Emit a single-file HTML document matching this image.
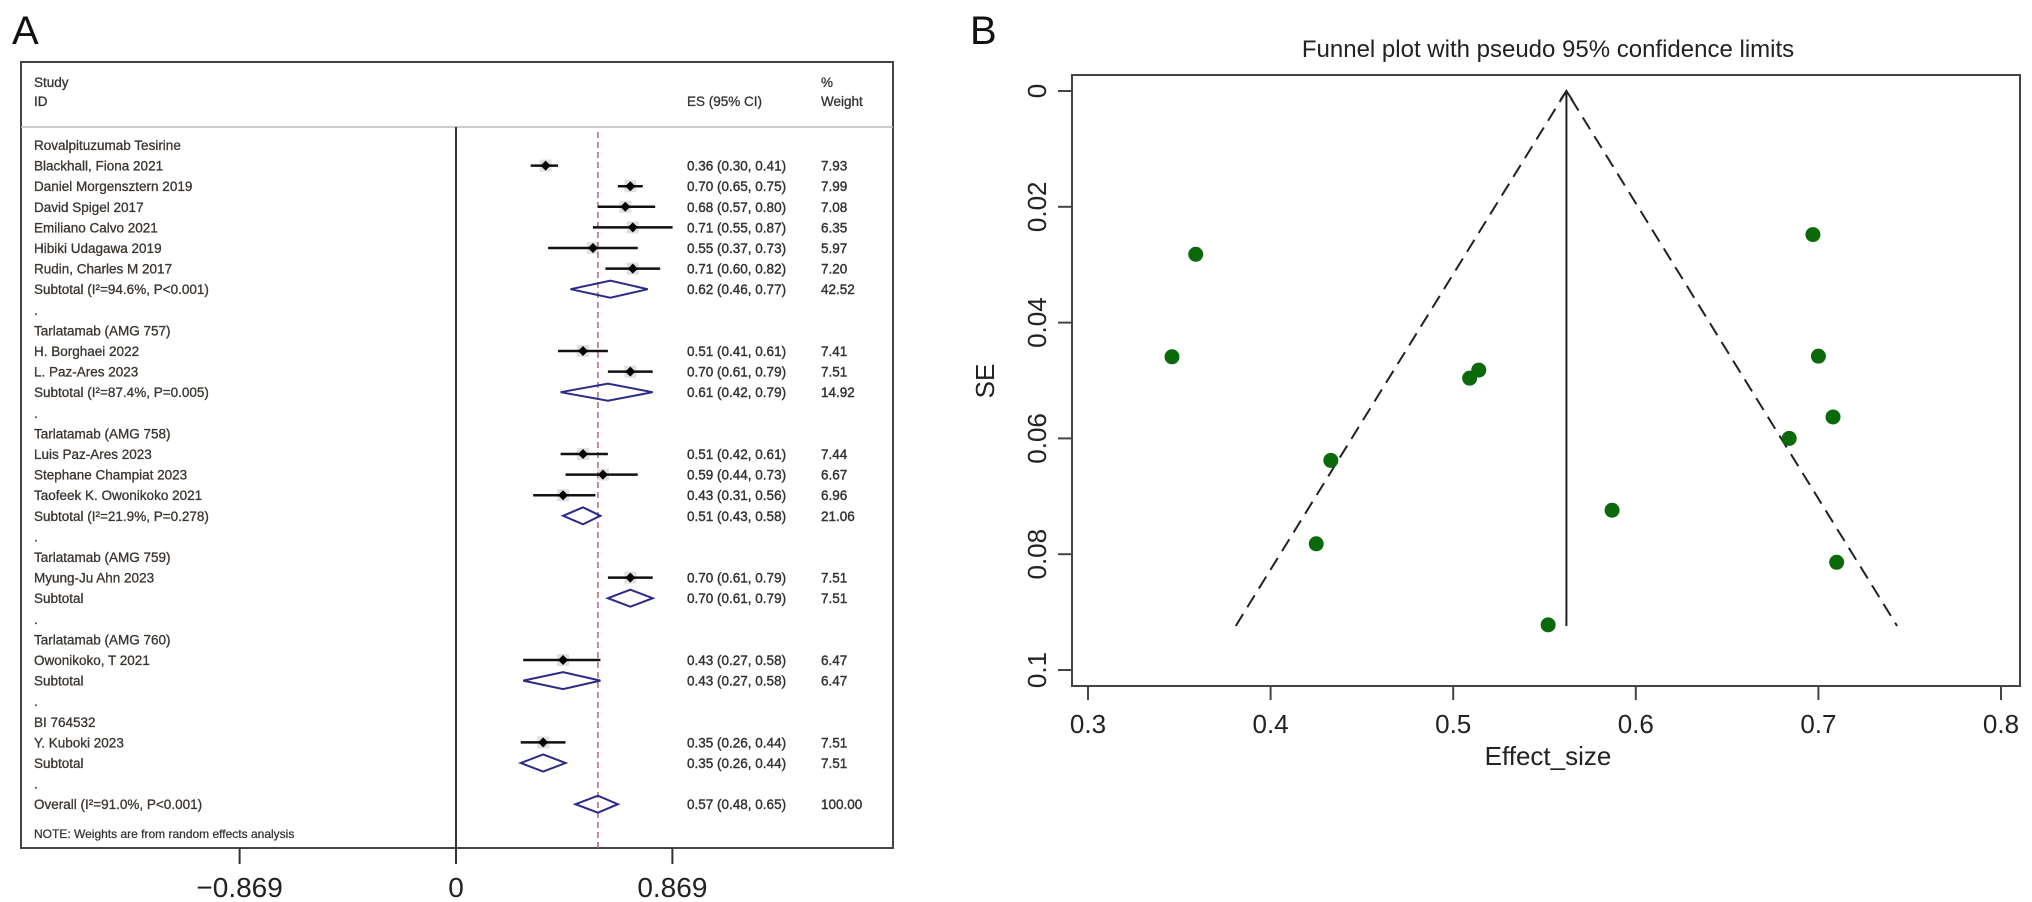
<!DOCTYPE html>
<html><head><meta charset="utf-8"><style>
body{margin:0;background:#fff;width:2032px;height:902px;overflow:hidden}
svg{display:block;font-family:"Liberation Sans",Arial,sans-serif}
</style></head><body>
<svg id="fig" width="2032" height="902" viewBox="0 0 2032 902">
<text x="12" y="44" font-size="40" fill="#111">A</text>
<text x="970" y="44" font-size="40" fill="#111">B</text>
<g id="forest"></g>
<g id="funnel"></g>
</svg>
<script>
const NS='http://www.w3.org/2000/svg';
function mk(tag,attrs,parent,txt){const e=document.createElementNS(NS,tag);for(const k in attrs)e.setAttribute(k,attrs[k]);if(txt!==undefined)e.textContent=txt;parent.appendChild(e);return e;}

// ---------- Forest plot data ----------
const rowLabels=["Rovalpituzumab Tesirine","Blackhall, Fiona 2021","Daniel Morgensztern 2019","David Spigel 2017","Emiliano Calvo 2021","Hibiki Udagawa 2019","Rudin, Charles M 2017","Subtotal  (I²=94.6%, P<0.001)",".","Tarlatamab (AMG 757)","H. Borghaei 2022","L. Paz-Ares 2023","Subtotal  (I²=87.4%, P=0.005)",".","Tarlatamab (AMG 758)","Luis Paz-Ares 2023","Stephane Champiat 2023","Taofeek K. Owonikoko 2021","Subtotal  (I²=21.9%, P=0.278)",".","Tarlatamab (AMG 759)","Myung-Ju Ahn 2023","Subtotal",".","Tarlatamab (AMG 760)","Owonikoko, T 2021","Subtotal",".","BI 764532","Y. Kuboki 2023","Subtotal",".","Overall  (I²=91.0%, P<0.001)"];
const rowTypes=["head","study","study","study","study","study","study","sub","blank","head","study","study","sub","blank","head","study","study","study","sub","blank","head","study","sub","blank","head","study","sub","blank","head","study","sub","blank","sub"];
const esVals=[null,0.36,0.70,0.68,0.71,0.55,0.71,0.62,null,null,0.51,0.70,0.61,null,null,0.51,0.59,0.43,0.51,null,null,0.70,0.70,null,null,0.43,0.43,null,null,0.35,0.35,null,0.57];
const loVals=[null,0.30,0.65,0.57,0.55,0.37,0.60,0.46,null,null,0.41,0.61,0.42,null,null,0.42,0.44,0.31,0.43,null,null,0.61,0.61,null,null,0.27,0.27,null,null,0.26,0.26,null,0.48];
const hiVals=[null,0.41,0.75,0.80,0.87,0.73,0.82,0.77,null,null,0.61,0.79,0.79,null,null,0.61,0.73,0.56,0.58,null,null,0.79,0.79,null,null,0.58,0.58,null,null,0.44,0.44,null,0.65];
const weights=[null,"7.93","7.99","7.08","6.35","5.97","7.20","42.52",null,null,"7.41","7.51","14.92",null,null,"7.44","6.67","6.96","21.06",null,null,"7.51","7.51",null,null,"6.47","6.47",null,null,"7.51","7.51",null,"100.00"];
const overallES=0.57;
const forestTicks=[-0.869,0,0.869];

const F=document.getElementById('forest');
const fx=v=>456+v*249;
const fy=i=>145+i*20.6;
mk('rect',{x:21,y:62,width:872,height:786,fill:'none',stroke:'#444','stroke-width':2},F);
mk('line',{x1:21,y1:127,x2:893,y2:127,stroke:'#bbb','stroke-width':1.5},F);
mk('line',{x1:fx(0),y1:127,x2:fx(0),y2:848,stroke:'#333','stroke-width':2},F);
mk('line',{x1:fx(overallES),y1:132,x2:fx(overallES),y2:848,stroke:'#c0606a','stroke-width':1.5,'stroke-dasharray':'6,4'},F);
const hs={fill:'#333','font-size':13.5,stroke:'#333','stroke-width':0.3};
mk('text',Object.assign({x:34,y:87},hs),F,'Study');
mk('text',Object.assign({x:34,y:106},hs),F,'ID');
mk('text',Object.assign({x:687,y:106},hs),F,'ES (95% CI)');
mk('text',Object.assign({x:821,y:87},hs),F,'%');
mk('text',Object.assign({x:821,y:106},hs),F,'Weight');
rowLabels.forEach((lab,i)=>{
  const y=fy(i);
  const t=mk('text',{x:34,y:y+5,fill:'#3a3530','font-size':13.5,stroke:'#3a3530','stroke-width':0.3},F,lab);
  
  
  if(esVals[i]==null)return;
  const tp=rowTypes[i];
  mk('text',{x:687,y:y+5,fill:'#333','font-size':13.5,stroke:'#333','stroke-width':0.4},F,esVals[i].toFixed(2)+' ('+loVals[i].toFixed(2)+', '+hiVals[i].toFixed(2)+')');
  mk('text',{x:821,y:y+5,fill:'#333','font-size':13.5,stroke:'#333','stroke-width':0.4},F,weights[i]);
  const x=fx(esVals[i]),x1=fx(loVals[i]),x2=fx(hiVals[i]);
  if(tp==='study'){
    const g=mk('g',{},F);
    
    
    mk('rect',{x:x-6,y:y-6,width:12,height:12,fill:'#999',opacity:0.3},g);
    mk('line',{x1:x1,y1:y,x2:x2,y2:y,stroke:'#111','stroke-width':2.5},g);
    mk('polygon',{points:`${x},${y-5} ${x+5},${y} ${x},${y+5} ${x-5},${y}`,fill:'#000'},g);
  }else{
    const d=mk('polygon',{points:`${x1},${y} ${x},${y-8.5} ${x2},${y} ${x},${y+8.5}`,fill:'none',stroke:'#2a2a8a','stroke-width':2},F);
    
    
  }
});
mk('text',{x:34,y:838,fill:'#333','font-size':12,stroke:'#333','stroke-width':0.25},F,'NOTE: Weights are from random effects analysis');
forestTicks.forEach(v=>{
  mk('line',{x1:fx(v),y1:848,x2:fx(v),y2:864,stroke:'#333','stroke-width':2},F);
  const t=mk('text',{x:fx(v),y:897,'text-anchor':'middle','font-size':28,fill:'#222'},F,v===0?'0':(v<0?'\u2212'+Math.abs(v):String(v)));
  
  
});

// ---------- Funnel plot data ----------
const effectSizes=[0.359,0.346,0.509,0.514,0.433,0.425,0.552,0.587,0.697,0.700,0.708,0.684,0.710];
const seVals=[0.0282,0.0459,0.0496,0.0482,0.0638,0.0782,0.0922,0.0724,0.0248,0.0458,0.0563,0.0600,0.0814];
const pooled=0.562;
const seMax=0.0924;
const xTicks=[0.3,0.4,0.5,0.6,0.7,0.8];
const yTicks=[0,0.02,0.04,0.06,0.08,0.1];

const P=document.getElementById('funnel');
const px=v=>1088+(v-0.3)*(2001-1088)/0.5;
const py=v=>91+v*(670-91)/0.1;
mk('text',{x:1548,y:57,'text-anchor':'middle','font-size':24,fill:'#222'},P,'Funnel plot with pseudo 95% confidence limits');
mk('rect',{x:1072,y:75,width:948,height:611,fill:'none',stroke:'#444','stroke-width':2},P);
xTicks.forEach(v=>{
  mk('line',{x1:px(v),y1:686,x2:px(v),y2:700,stroke:'#444','stroke-width':2},P);
  const t=mk('text',{x:px(v),y:733,'text-anchor':'middle','font-size':26,fill:'#222'},P,String(v));
  
  
});
yTicks.forEach(v=>{
  mk('line',{x1:1072,y1:py(v),x2:1058,y2:py(v),stroke:'#444','stroke-width':2},P);
  const t=mk('text',{x:1046,y:py(v),'text-anchor':'middle','font-size':26,fill:'#222',transform:`rotate(-90 1046 ${py(v)})`},P,String(v));
  
  
});
mk('text',{x:1548,y:765,'text-anchor':'middle','font-size':26,fill:'#222'},P,'Effect_size');
mk('text',{x:994,y:381,'text-anchor':'middle','font-size':26,fill:'#222',transform:'rotate(-90 994 381)'},P,'SE');
const lo=pooled-1.96*seMax,hi=pooled+1.96*seMax;
const fl=mk('path',{d:`M${px(lo)},${py(seMax)} L${px(pooled)},${py(0)} L${px(hi)},${py(seMax)}`,fill:'none',stroke:'#222','stroke-width':2,'stroke-dasharray':'14,8'},P);


mk('line',{x1:px(pooled),y1:py(seMax),x2:px(pooled),y2:py(0),stroke:'#222','stroke-width':2},P);
mk('path',{d:`M${px(pooled)-6},${py(0)+9} L${px(pooled)},${py(0)} L${px(pooled)+6},${py(0)+9}`,fill:'none',stroke:'#222','stroke-width':2},P);
effectSizes.forEach((v,i)=>{
  const c=mk('circle',{cx:px(v),cy:py(seVals[i]),r:7.5,fill:'#0a6a0a'},P);
  
  
});
</script>
</body></html>
